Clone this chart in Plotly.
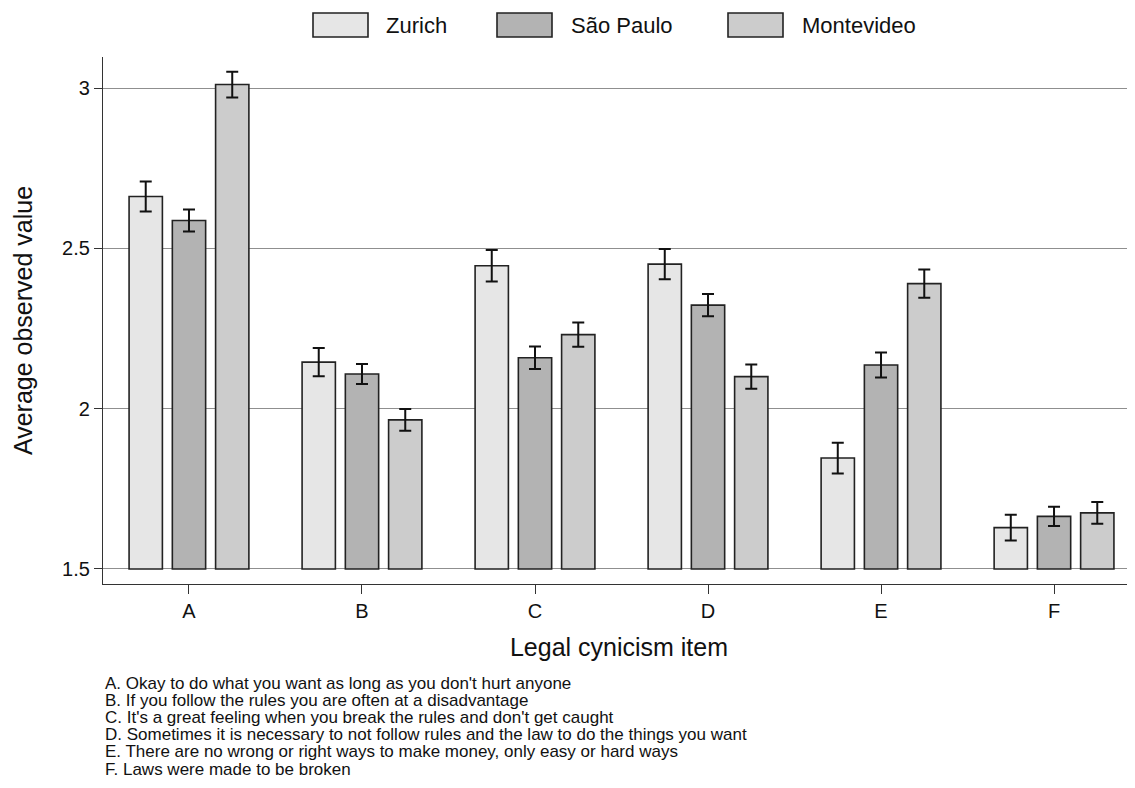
import plotly.graph_objects as go

items = ["A", "B", "C", "D", "E", "F"]
cities = ["Zurich", "São Paulo", "Montevideo"]
zurich = [2.662, 2.145, 2.446, 2.451, 1.846, 1.629]
zurich_err = [0.047, 0.044, 0.049, 0.047, 0.048, 0.040]
saopaulo = [2.587, 2.108, 2.159, 2.323, 2.136, 1.664]
saopaulo_err = [0.034, 0.031, 0.035, 0.035, 0.039, 0.030]
montevideo = [3.011, 1.965, 2.231, 2.100, 2.390, 1.675]
montevideo_err = [0.040, 0.034, 0.038, 0.038, 0.044, 0.034]
yticks = [1.5, 2, 2.5, 3]
yticklabels = ["1.5", "2", "2.5", "3"]
notes = [
    "A. Okay to do what you want as long as you don't hurt anyone",
    "B. If you follow the rules you are often at a disadvantage",
    "C. It's a great feeling when you break the rules and don't get caught",
    "D. Sometimes it is necessary to not follow rules and the law to do the things you want",
    "E. There are no wrong or right ways to make money, only easy or hard ways",
    "F. Laws were made to be broken",
]

colors = ["#e6e6e6", "#b3b3b3", "#cccccc"]
values = [zurich, saopaulo, montevideo]
errors = [zurich_err, saopaulo_err, montevideo_err]
FONT = "Liberation Sans, Arial, Helvetica, sans-serif"
BASE = 1.5

# the page body adds an 8px offset; figure sized to fill the window
OFF = 8
W, H = 1135 - OFF, 788 - OFF
ML, MR, MT = 103 - OFF, 0, 57 - OFF
MB = H - (584 - OFF)
PW = W - ML - MR
PH = H - MT - MB


def px2x(px):
    return (px - OFF - ML) / PW


def py2y(py):
    return (H - MB - (py - OFF)) / PH


fig = go.Figure()
for name, vals, errs, col in zip(cities, values, errors, colors):
    fig.add_trace(go.Bar(
        x=items,
        y=[v - BASE for v in vals],
        base=BASE,
        name=name,
        marker=dict(color=col, line=dict(color="#222222", width=1.6)),
        error_y=dict(type="data", array=errs, visible=True,
                     color="#111111", thickness=2, width=6),
        showlegend=False,
    ))

shapes = []
annotations = []
# legend (drawn as boxes + labels)
leg_box_left = [313, 497, 728]
leg_text_left = [386, 571, 802]
for name, col, bl, tl in zip(cities, colors, leg_box_left, leg_text_left):
    shapes.append(dict(type="rect", xref="paper", yref="paper",
                       x0=px2x(bl), x1=px2x(bl + 55), y0=py2y(37), y1=py2y(13),
                       fillcolor=col, line=dict(color="#222222", width=1.6)))
    annotations.append(dict(xref="paper", yref="paper", x=px2x(tl - 2), y=py2y(26),
                            text=name, showarrow=False, xanchor="left", yanchor="middle",
                            font=dict(family=FONT, size=22, color="#111111")))

for i, line in enumerate(notes):
    annotations.append(dict(xref="paper", yref="paper", x=px2x(104), y=py2y(683 + 17.2 * i),
                            text=line, showarrow=False, xanchor="left", yanchor="middle",
                            borderpad=0,
                            font=dict(family=FONT, size=17, color="#111111")))

fig.update_layout(
    width=W, height=H,
    margin=dict(l=ML, r=MR, t=MT, b=MB),
    paper_bgcolor="white", plot_bgcolor="white",
    barmode="group", bargap=0.25, bargroupgap=0.23,
    font=dict(family=FONT, color="#111111"),
    shapes=shapes, annotations=annotations,
    xaxis=dict(
        range=[-0.497, 5.468],
        showline=True, linecolor="#333333", linewidth=1.2,
        ticks="outside", ticklen=9, tickcolor="#333333", tickwidth=1.2,
        showgrid=False, zeroline=False,
        tickfont=dict(family=FONT, size=20, color="#111111"),
        title=dict(text="Legal cynicism item", standoff=17,
                   font=dict(family=FONT, size=25, color="#111111")),
    ),
    yaxis=dict(
        range=[1.453, 3.097],
        tickvals=yticks, ticktext=yticklabels,
        showline=True, linecolor="#333333", linewidth=1.2,
        ticks="outside", ticklen=8, tickcolor="#333333", tickwidth=1.2,
        showgrid=True, gridcolor="#8f8f8f", gridwidth=1,
        zeroline=False,
        tickfont=dict(family=FONT, size=20, color="#111111"),
        title=dict(text="Average observed value", standoff=22,
                   font=dict(family=FONT, size=25, color="#111111")),
    ),
)

fig.write_html("out.html")
